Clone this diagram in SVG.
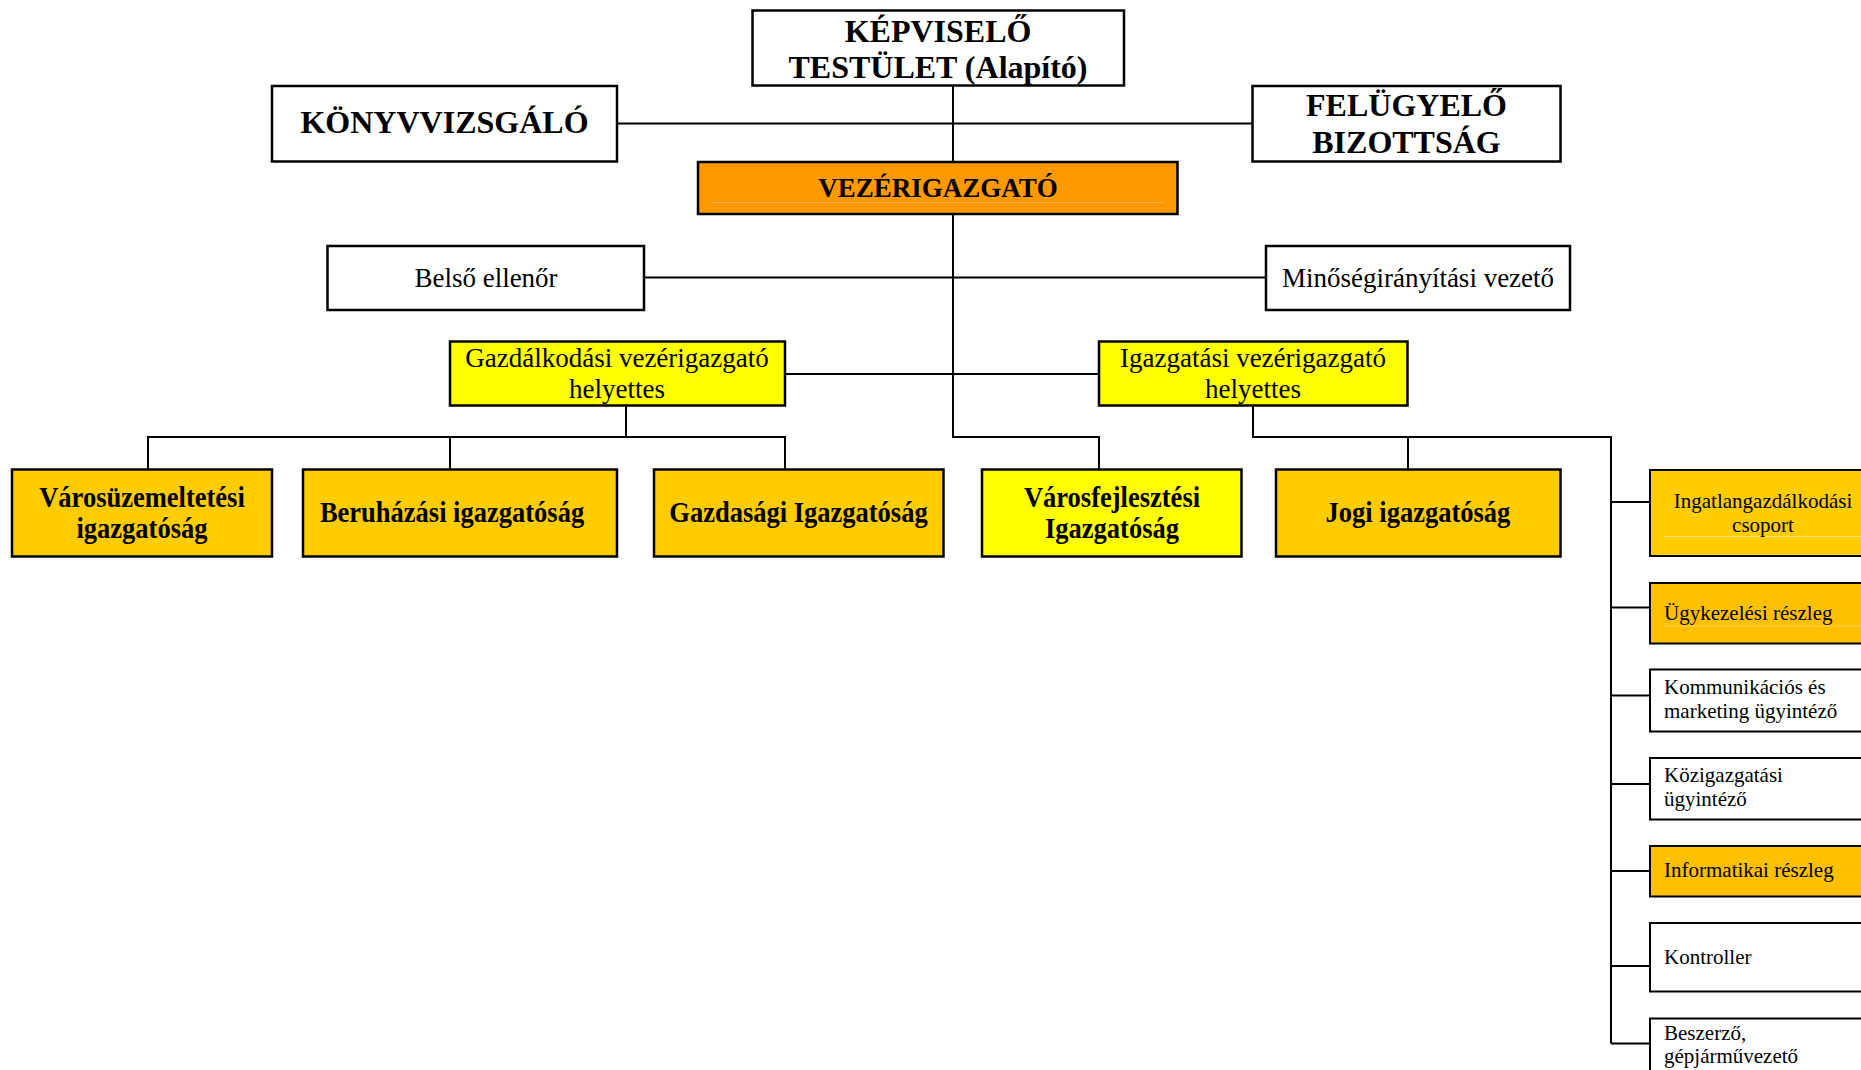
<svg xmlns="http://www.w3.org/2000/svg" width="1861" height="1070" viewBox="0 0 1861 1070">
<style>
.box{stroke:#000;stroke-width:2.5}
.sm{stroke:#000;stroke-width:2}
.w{fill:#fff}.o{fill:#FF9900}.y{fill:#FFFF00}.g{fill:#FFCC00}.g2{fill:#FFC000}
.t{font-family:"Liberation Serif","Times New Roman",serif;fill:#000}
.hb{font-size:32px;font-weight:bold;text-anchor:middle}
.mb{font-size:27px;font-weight:bold;text-anchor:middle}
.db{font-size:28.5px;font-weight:bold;text-anchor:middle}
.mr{font-size:27px;text-anchor:middle}
.sr{font-size:21px}
.c{stroke:#000;stroke-width:2;fill:none}
.faint{stroke-width:1;fill:none}
</style>
<rect width="1861" height="1070" fill="#fff"/>
<g id="connectors">
<path class="c" d="M953,85 V437 H1099 V469"/>
<path class="c" d="M617,123.5 H1252"/>
<path class="c" d="M644,277.5 H1266"/>
<path class="c" d="M785,374 H1099"/>
<path class="c" d="M626,406 V437 M148,469 V437 H785 V469 M450,437 V469"/>
<path class="c" d="M1253,406 V437 H1611 V1043.5 M1408,437 V469"/>
<path class="c" d="M1611,502 H1650 M1611,607.5 H1650 M1611,695.5 H1650 M1611,784 H1650 M1611,871 H1650 M1611,966 H1650 M1611,1043.5 H1650"/>
</g>
<g id="kepviselo">
<rect class="box w" x="752.5" y="10.5" width="371.5" height="75"/>
<text class="t hb" x="938" y="41.5">KÉPVISELŐ</text>
<text class="t hb" x="938" y="78">TESTÜLET (Alapító)</text>
</g>
<g id="konyvvizsgalo">
<rect class="box w" x="272" y="86" width="345" height="75.5"/>
<text class="t hb" x="444.5" y="133">KÖNYVVIZSGÁLÓ</text>
</g>
<g id="felugyelo">
<rect class="box w" x="1252.5" y="86" width="308" height="75.5"/>
<text class="t hb" x="1406.5" y="116">FELÜGYELŐ</text>
<text class="t hb" x="1406.5" y="152.5">BIZOTTSÁG</text>
</g>
<g id="vezerigazgato">
<rect class="box o" x="698" y="162" width="479.5" height="52"/>
<line x1="712" y1="202.5" x2="1163" y2="202.5" stroke="#FFB347" class="faint"/>
<text class="t mb" x="938" y="196.5">VEZÉRIGAZGATÓ</text>
</g>
<g id="belso-ellenor">
<rect class="box w" x="327.5" y="246" width="316.5" height="64"/>
<text class="t mr" x="486" y="286.5">Belső ellenőr</text>
</g>
<g id="minosegiranyitasi">
<rect class="box w" x="1266" y="246" width="304" height="64"/>
<text class="t mr" x="1418" y="286.5">Minőségirányítási vezető</text>
</g>
<g id="gazdalkodasi-helyettes">
<rect class="box y" x="450" y="341.5" width="335" height="64"/>
<text class="t mr" x="617" y="367">Gazdálkodási vezérigazgató</text>
<text class="t mr" x="617" y="397.5">helyettes</text>
</g>
<g id="igazgatasi-helyettes">
<rect class="box y" x="1099" y="341.5" width="308.5" height="64"/>
<text class="t mr" x="1253" y="367">Igazgatási vezérigazgató</text>
<text class="t mr" x="1253" y="397.5">helyettes</text>
</g>
<g id="varosuzemeltetesi">
<rect class="box g" x="12" y="469.5" width="260" height="87"/>
<g transform="translate(142,0) scale(0.93,1)">
<text class="t db" x="0" y="507">Városüzemeltetési</text>
<text class="t db" x="0" y="538">igazgatóság</text>
</g>
</g>
<g id="beruhazasi">
<rect class="box g" x="303" y="469.5" width="314" height="87"/>
<g transform="translate(452,0) scale(0.93,1)">
<text class="t db" x="0" y="522">Beruházási igazgatóság</text>
</g>
</g>
<g id="gazdasagi">
<rect class="box g" x="654" y="469.5" width="289.5" height="87"/>
<g transform="translate(798.5,0) scale(0.93,1)">
<text class="t db" x="0" y="522">Gazdasági Igazgatóság</text>
</g>
</g>
<g id="varosfejlesztesi">
<rect class="box y" x="982" y="469.5" width="259.5" height="87"/>
<g transform="translate(1112,0) scale(0.93,1)">
<text class="t db" x="0" y="507">Városfejlesztési</text>
<text class="t db" x="0" y="538">Igazgatóság</text>
</g>
</g>
<g id="jogi">
<rect class="box g" x="1276" y="469.5" width="284.5" height="87"/>
<g transform="translate(1418,0) scale(0.93,1)">
<text class="t db" x="0" y="522">Jogi igazgatóság</text>
</g>
</g>
<g id="ingatlangazdalkodasi">
<rect class="sm g" x="1650" y="470" width="230" height="86"/>
<line x1="1664" y1="536.5" x2="1861" y2="536.5" stroke="#FFE27A" class="faint"/>
<text class="t sr" x="1763" y="507.5" text-anchor="middle">Ingatlangazdálkodási</text>
<text class="t sr" x="1763" y="531.5" text-anchor="middle">csoport</text>
</g>
<g id="ugykezelesi">
<rect class="sm g2" x="1650" y="583" width="230" height="60.5"/>
<line x1="1664" y1="626" x2="1861" y2="626" stroke="#FFD24D" class="faint"/>
<text class="t sr" x="1664" y="620">Ügykezelési részleg</text>
</g>
<g id="kommunikacios">
<rect class="sm w" x="1650" y="669.5" width="230" height="62"/>
<text class="t sr" x="1664" y="694">Kommunikációs és</text>
<text class="t sr" x="1664" y="718">marketing ügyintéző</text>
</g>
<g id="kozigazgatasi">
<rect class="sm w" x="1650" y="758" width="230" height="61.5"/>
<text class="t sr" x="1664" y="782">Közigazgatási</text>
<text class="t sr" x="1664" y="806">ügyintéző</text>
</g>
<g id="informatikai">
<rect class="sm g2" x="1650" y="846" width="230" height="50.5"/>
<text class="t sr" x="1664" y="877">Informatikai részleg</text>
</g>
<g id="kontroller">
<rect class="sm w" x="1650" y="923" width="230" height="68.5"/>
<text class="t sr" x="1664" y="964">Kontroller</text>
</g>
<g id="beszerzo">
<rect class="sm w" x="1650" y="1018.5" width="230" height="80"/>
<text class="t sr" x="1664" y="1040">Beszerző,</text>
<text class="t sr" x="1664" y="1063">gépjárművezető</text>
</g>
</svg>
